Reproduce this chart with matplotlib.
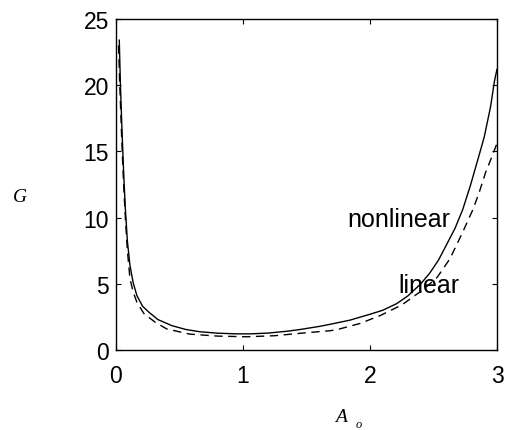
import matplotlib
matplotlib.use("Agg")
import matplotlib.pyplot as plt

# nonlinear gain curve (solid)
x_nonlinear = [0.026, 0.035, 0.047, 0.06, 0.073, 0.09, 0.11, 0.135, 0.165, 0.21,
               0.26, 0.33, 0.44, 0.55, 0.66, 0.8, 0.95, 1.06, 1.2, 1.35,
               1.45, 1.6, 1.69, 1.84, 2.0, 2.1, 2.21, 2.3, 2.4, 2.47,
               2.54, 2.6, 2.67, 2.73, 2.79, 2.85, 2.9, 2.95, 2.98, 3.0]
g_nonlinear = [23.4, 20.0, 16.7, 13.5, 10.8, 8.2, 6.4, 5.1, 4.1, 3.3,
               2.85, 2.3, 1.84, 1.55, 1.38, 1.27, 1.22, 1.22, 1.28, 1.42,
               1.55, 1.78, 1.95, 2.25, 2.7, 3.0, 3.5, 4.1, 5.0, 5.8,
               6.8, 7.9, 9.2, 10.6, 12.4, 14.4, 16.1, 18.4, 20.3, 21.2]

# linear gain curve (dashed)
x_linear = [0.02, 0.03, 0.045, 0.06, 0.075, 0.09, 0.11, 0.135, 0.165, 0.22,
            0.31, 0.40, 0.58, 0.8, 1.03, 1.25, 1.47, 1.69, 1.76, 1.92,
            2.08, 2.25, 2.39, 2.46, 2.53, 2.58, 2.63, 2.68, 2.73, 2.81,
            2.86, 2.91, 2.96, 3.0]
g_linear = [23.0, 20.0, 16.0, 12.5, 9.8, 7.5, 5.4, 4.4, 3.6, 2.75,
            2.09, 1.59, 1.2, 1.05, 1.0, 1.08, 1.28, 1.46, 1.59, 2.0,
            2.6, 3.4, 4.36, 4.9, 5.5, 6.2, 6.9, 7.9, 8.9, 10.6,
            11.9, 13.4, 14.6, 15.6]

x_ticks = [0, 1, 2, 3]
y_ticks = [0, 5, 10, 15, 20, 25]

plt.rcParams["font.family"] = ["Liberation Sans", "DejaVu Sans"]

fig = plt.figure(figsize=(5.08, 4.31), dpi=100)
ax = fig.add_axes([0.2283, 0.1856, 0.75, 0.768])

ax.plot(x_nonlinear, g_nonlinear, color="black", lw=1.0)
ax.plot(x_linear, g_linear, color="black", lw=1.0, dashes=(6, 4))

ax.set_xlim(0, 3)
ax.set_ylim(0, 25)
ax.set_xticks(x_ticks)
ax.set_yticks(y_ticks)
ax.tick_params(direction="in", length=3.5, width=0.8, labelsize=16.5,
               top=True, right=True)
ax.tick_params(axis="x", pad=10)
ax.tick_params(axis="y", pad=5)
for s in ax.spines.values():
    s.set_linewidth(1.0)

ax.text(1.82, 9.4, "nonlinear", fontsize=18, ha="left", va="baseline")
ax.text(2.22, 4.36, "linear", fontsize=18, ha="left", va="baseline")

serif = ["Liberation Serif", "DejaVu Serif"]
fig.text(20 / 508, 1 - 198 / 431, "G", family=serif, style="italic",
         fontsize=14, ha="center", va="center")
fig.text(341 / 508, 1 - 418 / 431, "A", family=serif, style="italic",
         fontsize=14, ha="center", va="center")
fig.text(359 / 508, 1 - 425 / 431, "o", family=serif, style="italic",
         fontsize=9, ha="center", va="center")

fig.savefig("out.png", dpi=100)
